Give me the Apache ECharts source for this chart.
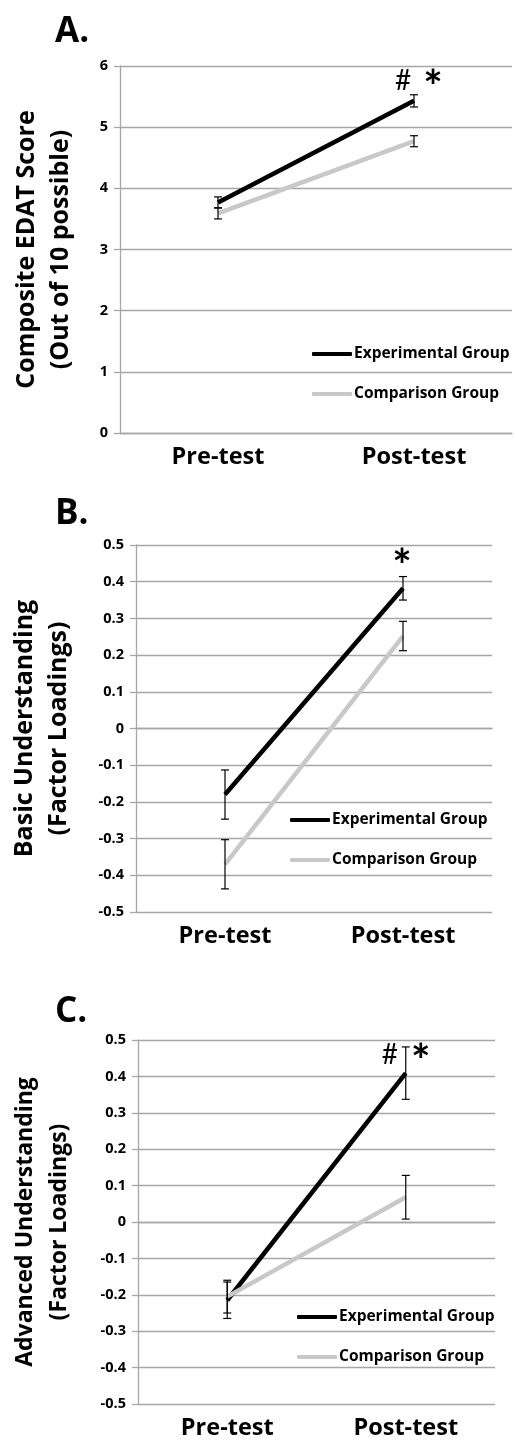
<!DOCTYPE html>
<html>
<head>
<meta charset="utf-8">
<script src="https://cdn.jsdelivr.net/npm/echarts@6/dist/echarts.min.js"></script>
<style>
html,body{margin:0;padding:0;background:#fff;}
#chart{width:515px;height:1440px;}
</style>
</head>
<body>
<div id="chart"></div>
<script>
// ---- data ----
const categories = ['Pre-test', 'Post-test'];
const groupNames = ['Experimental Group', 'Comparison Group'];
const panelLabels = ['A.', 'B.', 'C.'];
const yNames = [
  'Composite EDAT Score\n(Out of 10 possible)',
  'Basic Understanding\n(Factor Loadings)',
  'Advanced Understanding\n(Factor Loadings)'
];
// Panel A
const aExp = [3.77, 5.43];
const aExpErr = [0.09, 0.10];
const aComp = [3.59, 4.77];
const aCompErr = [0.09, 0.09];
const aTicks = [0, 1, 2, 3, 4, 5, 6];
// Panel B
const bExp = [-0.18, 0.382];
const bExpErr = [0.067, 0.032];
const bComp = [-0.37, 0.252];
const bCompErr = [0.067, 0.04];
const bTicks = [-0.5, -0.4, -0.3, -0.2, -0.1, 0, 0.1, 0.2, 0.3, 0.4, 0.5];
// Panel C
const cExp = [-0.215, 0.409];
const cExpErr = [0.05, 0.072];
const cComp = [-0.205, 0.068];
const cCompErr = [0.045, 0.06];
const cTicks = [-0.5, -0.4, -0.3, -0.2, -0.1, 0, 0.1, 0.2, 0.3, 0.4, 0.5];
// significance marks: [category, value, text]
const aMarks = [['Post-test', 5.76, '#'], ['Post-test', 5.76, '*']];
const bMarks = [['Post-test', 0.459, '*']];
const cMarks = [['Post-test', 0.459, '#'], ['Post-test', 0.459, '*']];

// ---- layout/styling ----
const FONT = '"Open Sans", Lato, sans-serif';
const GRID_COLOR = '#a6a6a6';
const panels = [
  {grid: {left: 120, right: 3, top: 66, height: 367}, ticks: aTicks, exp: aExp, expErr: aExpErr, comp: aComp, compErr: aCompErr, marks: aMarks,
   title: {left: 55, top: 15}, legend: {left: 312, top: 344}, nameGap: 42, nameSize: 25, markOffsets: [-11, 19]},
  {grid: {left: 122, right: 23, top: 545, height: 367}, ticks: bTicks, exp: bExp, expErr: bExpErr, comp: bComp, compErr: bCompErr, marks: bMarks,
   title: {left: 55, top: 497}, legend: {left: 290, top: 810}, nameGap: 60, nameSize: 25, markOffsets: [-1]},
  {grid: {left: 126, right: 20, top: 1040, height: 367}, ticks: cTicks, exp: cExp, expErr: cExpErr, comp: cComp, compErr: cCompErr, marks: cMarks,
   title: {left: 55, top: 995}, legend: {left: 297, top: 1307}, nameGap: 62, nameSize: 23, markOffsets: [-16, 15]}
];

function errData(vals, errs) {
  return vals.map((v, i) => [i, v, errs[i]]);
}
function errorRender(params, api) {
  const i = api.value(0), v = api.value(1), e = api.value(2);
  const top = api.coord([i, v + e]);
  const bot = api.coord([i, v - e]);
  const hw = 4;
  const st = {stroke: '#000', lineWidth: 1.2};
  return {
    type: 'group',
    children: [
      {type: 'line', shape: {x1: top[0], y1: top[1], x2: bot[0], y2: bot[1]}, style: st},
      {type: 'line', shape: {x1: top[0] - hw, y1: top[1], x2: top[0] + hw, y2: top[1]}, style: st},
      {type: 'line', shape: {x1: bot[0] - hw, y1: bot[1], x2: bot[0] + hw, y2: bot[1]}, style: st}
    ]
  };
}

const option = {
  backgroundColor: '#fff',
  animation: false,
  title: [], legend: [], grid: [], xAxis: [], yAxis: [], series: []
};

panels.forEach((p, k) => {
  option.title.push({text: panelLabels[k], left: p.title.left, top: p.title.top, padding: 0,
    textStyle: {fontFamily: FONT, fontWeight: 'bold', fontSize: 35, color: '#000'}});
  option.legend.push({
    data: groupNames, orient: 'vertical', left: p.legend.left, top: p.legend.top,
    icon: 'roundRect', itemWidth: 40, itemHeight: 4, itemGap: 20, padding: 0,
    selectedMode: false,
    textStyle: {fontFamily: FONT, fontWeight: 'bold', fontSize: 15.5, color: '#000', lineHeight: 20, padding: [0, 0, 0, -3]}
  });
  option.grid.push(p.grid);
  option.xAxis.push({
    type: 'category', gridIndex: k, data: categories, boundaryGap: true,
    axisLine: {show: true, lineStyle: {color: GRID_COLOR, width: 1.3}},
    axisTick: {show: false},
    axisLabel: {fontFamily: FONT, fontWeight: 'bold', fontSize: 23.5, color: '#000', margin: 12}
  });
  const t = p.ticks;
  option.yAxis.push({
    type: 'value', gridIndex: k, min: t[0], max: t[t.length - 1],
    interval: +(t[1] - t[0]).toFixed(4),
    name: yNames[k], nameLocation: 'middle', nameRotate: 90, nameGap: p.nameGap,
    nameTextStyle: {fontFamily: FONT, fontWeight: 'bold', fontSize: p.nameSize, color: '#000', lineHeight: 34},
    axisLine: {show: true, lineStyle: {color: GRID_COLOR, width: 1.3}},
    axisTick: {show: true, length: 6, lineStyle: {color: GRID_COLOR, width: 1.3}},
    splitLine: {show: true, lineStyle: {color: GRID_COLOR, width: 1.3}},
    axisLabel: {fontFamily: FONT, fontWeight: 'bold', fontSize: 14.5, color: '#000', margin: 12,
      formatter: v => String(+v.toFixed(2))}
  });
  const markData = p.marks.map((m, j) => ({
    coord: [m[0], m[1]],
    label: {
      show: true, formatter: m[2], offset: [p.markOffsets[j], m[2] === '*' ? 7 : 0],
      fontFamily: 'Lato', fontWeight: m[2] === '*' ? 'bold' : 'normal', fontSize: m[2] === '*' ? 46 : 28, color: '#000'
    }
  }));
  option.series.push({
    name: groupNames[1], type: 'line', xAxisIndex: k, yAxisIndex: k, data: p.comp,
    symbol: 'none', lineStyle: {color: '#c8c8c8', width: 4.5}, itemStyle: {color: '#c8c8c8'}, z: 3
  });
  option.series.push({
    name: groupNames[0], type: 'line', xAxisIndex: k, yAxisIndex: k, data: p.exp,
    symbol: 'none', lineStyle: {color: '#000', width: 4.5}, itemStyle: {color: '#000'}, z: 2,
    markPoint: {symbol: 'circle', symbolSize: 0, silent: true, data: markData}
  });
  option.series.push({
    type: 'custom', xAxisIndex: k, yAxisIndex: k, data: errData(p.exp, p.expErr),
    renderItem: errorRender, encode: {x: 0, y: 1}, z: 5, silent: true
  });
  option.series.push({
    type: 'custom', xAxisIndex: k, yAxisIndex: k, data: errData(p.comp, p.compErr),
    renderItem: errorRender, encode: {x: 0, y: 1}, z: 5, silent: true
  });
});

const chart = echarts.init(document.getElementById('chart'));
chart.setOption(option);
</script>
</body>
</html>
